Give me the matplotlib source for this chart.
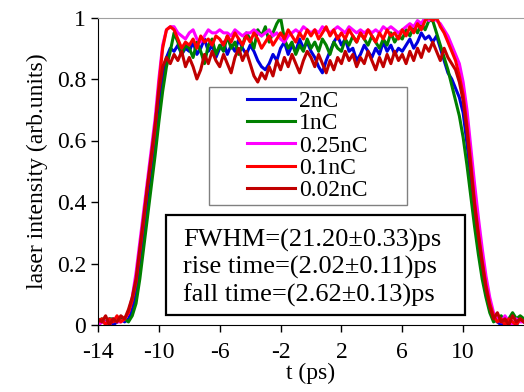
"""Laser pulse temporal profile for different bunch charges."""

import numpy as np
import matplotlib.pyplot as plt
from matplotlib.patches import Rectangle

plt.rcParams['font.family'] = ['Liberation Serif', 'DejaVu Serif']
plt.rcParams['font.size'] = 17
plt.rcParams['axes.unicode_minus'] = False

# time grid (ps), 0.25 ps sampling, rows below are 2 ps each
t = np.arange(-14, 14.001, 0.25)

i_2nC = [0.00, 0.01, 0.01, 0.02, 0.00, 0.01, 0.02, 0.01,
         0.02, 0.05, 0.10, 0.19, 0.29, 0.39, 0.49, 0.59,
         0.70, 0.80, 0.87, 0.90, 0.89, 0.91, 0.88, 0.90,
         0.89, 0.92, 0.88, 0.90, 0.93, 0.89, 0.91, 0.87,
         0.90, 0.92, 0.88, 0.91, 0.89, 0.93, 0.90, 0.88,
         0.91, 0.89, 0.86, 0.84, 0.83, 0.85, 0.88, 0.86,
         0.90, 0.92, 0.88, 0.91, 0.89, 0.93, 0.90, 0.92,
         0.89, 0.87, 0.84, 0.82, 0.86, 0.89, 0.92, 0.94,
         0.91, 0.93, 0.89, 0.90, 0.86, 0.88, 0.91, 0.89,
         0.87, 0.90, 0.88, 0.92, 0.89, 0.91, 0.88, 0.90,
         0.89, 0.91, 0.93, 0.90, 0.92, 0.95, 0.93, 0.94,
         0.92, 0.94, 0.90, 0.86, 0.82, 0.80, 0.77, 0.74,
         0.69, 0.59, 0.48, 0.36, 0.26, 0.17, 0.10, 0.05,
         0.02, 0.01, 0.00, 0.02, 0.01, 0.01, 0.00, 0.02,
         0.01]

i_1nC = [0.01, 0.02, 0.01, 0.02, 0.02, 0.01, 0.02, 0.02,
         0.01, 0.03, 0.07, 0.15, 0.25, 0.35, 0.45, 0.55,
         0.66, 0.76, 0.84, 0.89, 0.95, 0.92, 0.88, 0.91,
         0.90, 0.87, 0.92, 0.89, 0.85, 0.91, 0.93, 0.88,
         0.91, 0.89, 0.94, 0.90, 0.92, 0.88, 0.91, 0.95,
         0.93, 0.90, 0.96, 0.94, 0.97, 0.92, 0.95, 0.98,
         1.00, 0.93, 0.90, 0.92, 0.88, 0.91, 0.89, 0.93,
         0.90, 0.92, 0.89, 0.93, 0.91, 0.88, 0.92, 0.90,
         0.89, 0.93, 0.91, 0.94, 0.92, 0.95, 0.93, 0.91,
         0.94, 0.92, 0.90, 0.93, 0.91, 0.95, 0.92, 0.94,
         0.93, 0.96, 0.94, 0.97, 0.95, 0.98, 0.96, 0.99,
         0.99, 0.95, 0.91, 0.87, 0.83, 0.78, 0.73, 0.68,
         0.61, 0.52, 0.42, 0.32, 0.23, 0.15, 0.09, 0.04,
         0.01, 0.02, 0.03, 0.01, 0.02, 0.04, 0.02, 0.03,
         0.02]

i_025nC = [0.00, 0.01, 0.01, 0.00, 0.02, 0.01, 0.01, 0.02,
           0.04, 0.09, 0.17, 0.27, 0.37, 0.47, 0.57, 0.67,
           0.80, 0.91, 0.96, 0.97, 0.97, 0.95, 0.94, 0.93,
           0.95, 0.96, 0.93, 0.92, 0.94, 0.96, 0.95, 0.95,
           0.96, 0.95, 0.95, 0.94, 0.96, 0.95, 0.94, 0.95,
           0.95, 0.96, 0.95, 0.94, 0.95, 0.96, 0.94, 0.95,
           0.93, 0.92, 0.94, 0.95, 0.96, 0.95, 0.97, 0.96,
           0.95, 0.96, 0.95, 0.97, 0.96, 0.95, 0.96, 0.97,
           0.96, 0.95, 0.97, 0.96, 0.95, 0.96, 0.95, 0.96,
           0.95, 0.96, 0.95, 0.97, 0.96, 0.97, 0.96, 0.95,
           0.96, 0.97, 0.98, 0.97, 0.99, 0.98, 1.00, 0.99,
           1.00, 0.99, 0.98, 0.96, 0.94, 0.91, 0.88, 0.85,
           0.79, 0.70, 0.58, 0.46, 0.35, 0.25, 0.16, 0.09,
           0.04, 0.02, 0.01, 0.03, 0.01, 0.00, 0.02, 0.01,
           0.01]

i_01nC = [0.01, 0.02, 0.00, 0.02, 0.01, 0.03, 0.01, 0.02,
          0.04, 0.08, 0.14, 0.24, 0.34, 0.45, 0.54, 0.64,
          0.78, 0.90, 0.96, 0.97, 0.96, 0.93, 0.90, 0.92,
          0.91, 0.93, 0.90, 0.94, 0.92, 0.93, 0.91, 0.94,
          0.93, 0.91, 0.94, 0.92, 0.95, 0.93, 0.91, 0.94,
          0.92, 0.95, 0.93, 0.90, 0.92, 0.94, 0.91, 0.93,
          0.95, 0.93, 0.96, 0.94, 0.92, 0.95, 0.93, 0.96,
          0.94, 0.96, 0.93, 0.95, 0.97, 0.94, 0.96, 0.93,
          0.95, 0.93, 0.96, 0.94, 0.92, 0.95, 0.93, 0.96,
          0.94, 0.92, 0.95, 0.93, 0.96, 0.94, 0.95, 0.93,
          0.96, 0.94, 0.97, 0.95, 0.98, 0.96, 0.99, 1.00,
          0.99, 1.00, 0.97, 0.95, 0.92, 0.89, 0.86, 0.81,
          0.75, 0.65, 0.53, 0.40, 0.30, 0.21, 0.13, 0.07,
          0.03, 0.01, 0.02, 0.00, 0.02, 0.01, 0.00, 0.02,
          0.01]

i_002nC = [0.02, 0.01, 0.03, 0.00, 0.02, 0.01, 0.03, 0.02,
           0.05, 0.09, 0.15, 0.25, 0.35, 0.45, 0.55, 0.65,
           0.76, 0.84, 0.87, 0.85, 0.88, 0.86, 0.89, 0.84,
           0.87, 0.84, 0.80, 0.83, 0.88, 0.85, 0.89, 0.86,
           0.84, 0.88, 0.85, 0.82, 0.87, 0.90, 0.86, 0.89,
           0.85, 0.81, 0.79, 0.82, 0.80, 0.84, 0.81, 0.86,
           0.83, 0.87, 0.84, 0.88, 0.85, 0.82, 0.86, 0.89,
           0.87, 0.84, 0.88, 0.85, 0.82, 0.86, 0.83, 0.87,
           0.85, 0.89, 0.86, 0.88, 0.84, 0.87, 0.85, 0.89,
           0.86, 0.83, 0.87, 0.84, 0.88, 0.85, 0.89, 0.86,
           0.88, 0.85, 0.89, 0.86, 0.90, 0.87, 0.91, 0.89,
           0.92, 0.89, 0.86, 0.90, 0.87, 0.85, 0.83, 0.79,
           0.73, 0.63, 0.51, 0.39, 0.29, 0.20, 0.12, 0.06,
           0.02, 0.04, 0.01, 0.02, 0.00, 0.03, 0.01, 0.02,
           0.01]

labels = ['2nC', '1nC', '0.25nC', '0.1nC', '0.02nC']
colors = ['#0000dd', '#008000', '#ff00ff', '#ff0000', '#c00000']
fit_text = ['FWHM=(21.20\u00b10.33)ps',
            'rise time=(2.02\u00b10.11)ps',
            'fall time=(2.62\u00b10.13)ps']

fig = plt.figure(figsize=(5.24, 3.92), dpi=100)
ax = fig.add_axes([98 / 524, 67 / 392, 426 / 524, 307.5 / 392])

for y, c, lab in zip([i_2nC, i_1nC, i_025nC, i_01nC, i_002nC], colors, labels):
    ax.plot(t, y, color=c, lw=2.2, label=lab)

ax.set_xlim(-14, 14)
ax.set_ylim(0, 1)
ax.set_xticks([-14, -10, -6, -2, 2, 6, 10])
ax.set_yticks([0, 0.2, 0.4, 0.6, 0.8, 1.0])
ax.set_yticklabels(['0', '0.2', '0.4', '0.6', '0.8', '1'])
ax.tick_params(direction='out', length=5, width=1)
ax.tick_params(axis='x', pad=7)
ax.spines['right'].set_visible(False)
ax.spines['top'].set_color('#a0a0a0')
ax.set_xlabel('t (ps)', labelpad=0)
ax.set_ylabel('laser intensity (arb.units)', labelpad=6)

# legend frame drawn by hand, it is wider than its content
ax.add_patch(Rectangle((0.2606, 0.390), 0.4648, 0.384, transform=ax.transAxes,
                       facecolor='white', edgecolor='#808080', lw=1, zorder=5))
leg = ax.legend(loc='center left', bbox_to_anchor=(0.349, 0.5825),
                frameon=False, borderpad=0, borderaxespad=0,
                handlelength=2.05, handletextpad=0.18, labelspacing=0.03)
leg.set_zorder(6)

# fit results box
ax.add_patch(Rectangle((0.1596, 0.0325), 0.7019, 0.3252, transform=ax.transAxes,
                       facecolor='white', edgecolor='black', lw=1.6, zorder=5))
for s, yy in zip(fit_text, [0.2546, 0.1659, 0.0758]):
    ax.text(0.1995, yy, s, transform=ax.transAxes, fontsize=19,
            va='baseline', ha='left', zorder=6)

plt.savefig('out.png', dpi=100)
